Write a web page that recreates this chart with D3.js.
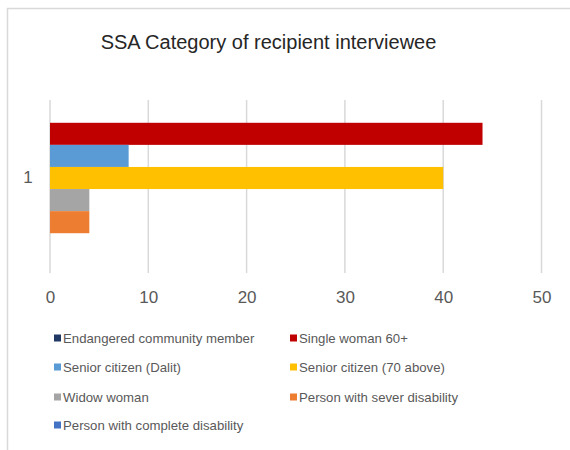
<!DOCTYPE html>
<html>
<head>
<meta charset="utf-8">
<script src="https://cdn.jsdelivr.net/npm/d3@7"></script>
<style>
  html, body { margin: 0; padding: 0; background: #fff; }
  svg { display: block; font-family: "Liberation Sans", Arial, sans-serif; }
</style>
</head>
<body>
<svg id="chart" width="570" height="450"></svg>
<script>
const title = "SSA Category of recipient interviewee";
const categories = ["1"];
const seriesNames = [
  "Endangered community member",
  "Single woman 60+",
  "Senior citizen (Dalit)",
  "Senior citizen (70 above)",
  "Widow woman",
  "Person with sever disability",
  "Person with complete disability"
];
const seriesValues = [0, 44, 8, 40, 4, 4, 0];
const seriesColors = ["#1F3864", "#C00000", "#5B9BD5", "#FFC000", "#A5A5A5", "#ED7D31", "#4472C4"];
const xTicks = [0, 10, 20, 30, 40, 50];

const svg = d3.select("#chart");

// outer chart border
svg.append("rect")
  .attr("x", 7.5).attr("y", 8.5)
  .attr("width", 620).attr("height", 500)
  .attr("fill", "#fff").attr("stroke", "#d9d9d9").attr("stroke-width", 1.5);

svg.append("text")
  .attr("x", 268.5).attr("y", 48.5)
  .attr("text-anchor", "middle")
  .attr("font-size", 20)
  .attr("fill", "#262626")
  .text(title);

const plotTop = 100, plotBottom = 273;
const x = d3.scaleLinear().domain([0, 50]).range([50, 541.5]);

// gridlines
svg.append("g").selectAll("line").data(xTicks).join("line")
  .attr("x1", d => x(d)).attr("x2", d => x(d))
  .attr("y1", plotTop).attr("y2", plotBottom)
  .attr("stroke", "#d9d9d9").attr("stroke-width", 1.5);

// tick labels via axis
const xAxis = d3.axisBottom(x).tickValues(xTicks).tickSize(0).tickPadding(0);
const gx = svg.append("g").attr("transform", `translate(0, ${plotBottom + 18})`).call(xAxis);
gx.select(".domain").remove();
gx.selectAll("text")
  .attr("font-size", 17)
  .attr("font-family", "Liberation Sans, Arial, sans-serif")
  .attr("fill", "#595959")
  .attr("dy", "0.71em");

// category band
const y = d3.scaleBand().domain(categories).range([100.7, 255.3]);
const ySeries = d3.scaleBand().domain(seriesNames).range([0, y.bandwidth()]);

svg.append("g").selectAll("text").data(categories).join("text")
  .attr("x", 28).attr("y", d => y(d) + y.bandwidth() / 2 - 1)
  .attr("dy", "0.35em")
  .attr("text-anchor", "middle")
  .attr("font-size", 17).attr("fill", "#595959")
  .text(d => d);

const bars = svg.append("g");
categories.forEach(cat => {
  bars.selectAll(null).data(seriesNames.map((n, i) => ({ n, v: seriesValues[i], c: seriesColors[i] })))
    .join("rect")
    .attr("x", x(0))
    .attr("y", d => y(cat) + ySeries(d.n))
    .attr("width", d => x(d.v) - x(0))
    .attr("height", ySeries.bandwidth())
    .attr("fill", d => d.c);
});

// legend
const legendPos = [
  [54, 338], [290, 338],
  [54, 367], [290, 367],
  [54, 397], [290, 397],
  [54, 425]
];
const lg = svg.append("g").selectAll("g").data(seriesNames).join("g")
  .attr("transform", (d, i) => `translate(${legendPos[i][0]}, ${legendPos[i][1]})`);
lg.append("rect")
  .attr("x", 0).attr("y", -3.5).attr("width", 7).attr("height", 7)
  .attr("fill", (d, i) => seriesColors[i]);
lg.append("text")
  .attr("x", 9).attr("y", 0).attr("dy", "0.35em")
  .attr("font-size", 13.2).attr("fill", "#595959")
  .text(d => d);
</script>
</body>
</html>
